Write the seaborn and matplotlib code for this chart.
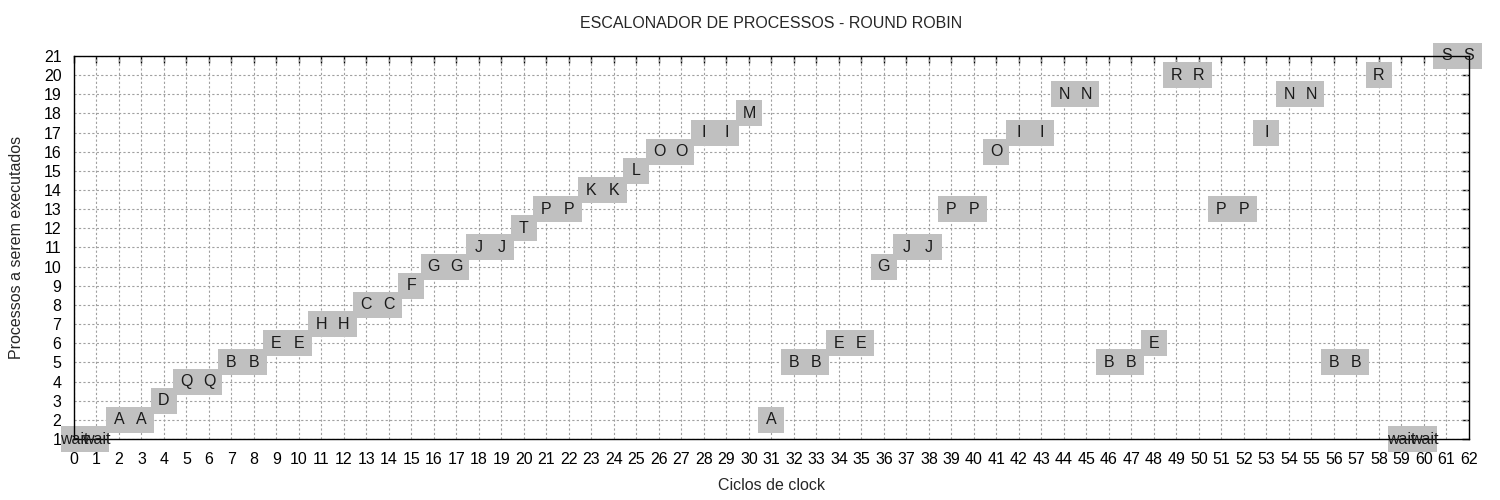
import matplotlib
matplotlib.use("Agg")
import matplotlib.pyplot as plt
import pandas as pd
import seaborn as sns

# clock cycle, process row and process name for each executed slot
ciclos = [0, 1, 2, 3, 4, 5, 6, 7, 8, 9, 10, 11, 12, 13, 14, 15, 16, 17, 18, 19,
          20, 21, 22, 23, 24, 25, 26, 27, 28, 29, 30, 31, 32, 33, 34, 35, 36, 37,
          38, 39, 40, 41, 42, 43, 44, 45, 46, 47, 48, 49, 50, 51, 52, 53, 54, 55,
          56, 57, 58, 59, 60, 61, 62]
linhas = [1, 1, 2, 2, 3, 4, 4, 5, 5, 6, 6, 7, 7, 8, 8, 9, 10, 10, 11, 11,
          12, 13, 13, 14, 14, 15, 16, 16, 17, 17, 18, 2, 5, 5, 6, 6, 10, 11,
          11, 13, 13, 16, 17, 17, 19, 19, 5, 5, 6, 20, 20, 13, 13, 17, 19, 19,
          5, 5, 20, 1, 1, 21, 21]
processos = ["wait", "wait", "A", "A", "D", "Q", "Q", "B", "B", "E", "E", "H", "H",
             "C", "C", "F", "G", "G", "J", "J", "T", "P", "P", "K", "K", "L", "O",
             "O", "I", "I", "M", "A", "B", "B", "E", "E", "G", "J", "J", "P", "P",
             "O", "I", "I", "N", "N", "B", "B", "E", "R", "R", "P", "P", "I", "N",
             "N", "B", "B", "R", "wait", "wait", "S", "S"]

x_ticks = list(range(0, 63))
y_ticks = list(range(1, 22))

df = pd.DataFrame({"ciclo": ciclos, "linha": linhas, "proc": processos})

sns.set_style("white")
plt.rcParams["font.family"] = ["Liberation Sans", "DejaVu Sans"]
plt.rcParams["font.size"] = 11.5

fig = plt.figure(figsize=(15, 5), dpi=100)
ax = fig.add_axes([0.0493, 0.122, 0.93, 0.766])

# dotted grid drawn by hand so the gray boxes sit above it but below the axis
grid_style = dict(color="#a0a0a0", linestyle=(0, (2, 2)), linewidth=0.8, zorder=1)
ax.vlines(x_ticks, 1, 21, **grid_style)
ax.hlines(y_ticks, 0, 62, **grid_style)

sns.scatterplot(data=df, x="ciclo", y="linha", marker="s", s=330,
                color="#c0c0c0", linewidth=0, ax=ax, legend=False, zorder=2)
ax.collections[-1].set_clip_on(False)

for c, l, p in zip(ciclos, linhas, processos):
    ax.text(c, l, p, ha="center", va="center", fontsize=11.5, color="#1a1a1a",
            zorder=4, clip_on=False)

ax.set_xlim(0, 62)
ax.set_ylim(1, 21)
ax.set_xticks(x_ticks)
ax.set_yticks(y_ticks)
ax.tick_params(direction="in", length=5, width=1, top=True, right=True,
               labeltop=False, labelright=False, colors="black", labelsize=11.5,
               pad=9)
for sp in ax.spines.values():
    sp.set_visible(True)
    sp.set_color("black")
    sp.set_linewidth(1)
    sp.set_zorder(3)

ax.set_title("ESCALONADOR DE PROCESSOS - ROUND ROBIN", fontsize=11.5, pad=20)
ax.set_xlabel("Ciclos de clock", fontsize=11.5, labelpad=8)
ax.set_ylabel("Processos a serem executados", fontsize=11.5, labelpad=14)

fig.savefig("out.png", dpi=100)
